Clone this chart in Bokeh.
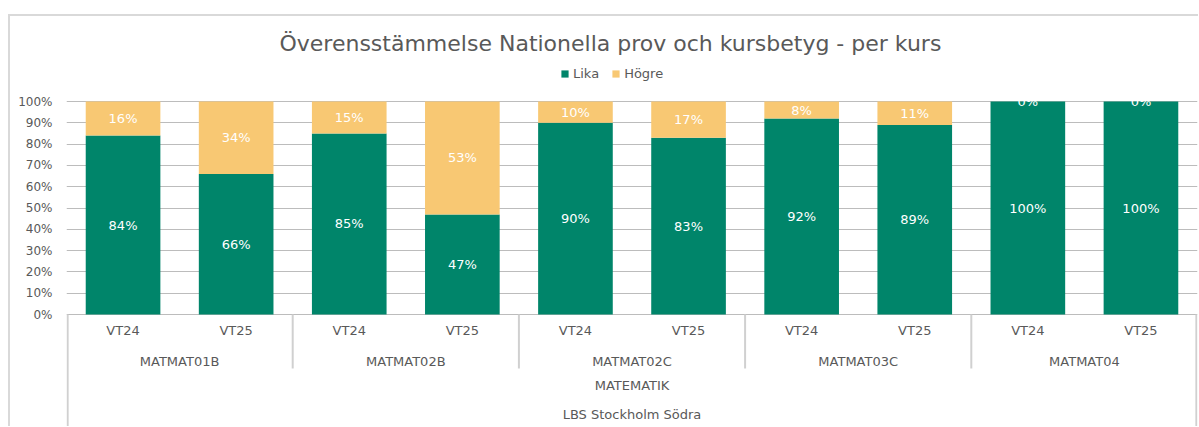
from bokeh.plotting import figure
from bokeh.models import (ColumnDataSource, Range1d, FixedTicker, NumeralTickFormatter,
                          Legend, LegendItem, InlineStyleSheet)
from bokeh.core.properties import value
from bokeh.embed import file_html
from bokeh.resources import INLINE

# ---------------- data ----------------
title = "Överensstämmelse Nationella prov och kursbetyg - per kurs"
school = "LBS Stockholm Södra"
subject = "MATEMATIK"
courses = ["MATMAT01B", "MATMAT02B", "MATMAT02C", "MATMAT03C", "MATMAT04"]
terms = ["VT24", "VT25"]
series_names = ["Lika", "Högre"]
lika = [84, 66, 85, 47, 90, 83, 92, 89, 100, 100]
hogre = [16, 34, 15, 53, 10, 17, 8, 11, 0, 0]
y_ticks = [0, 10, 20, 30, 40, 50, 60, 70, 80, 90, 100]

# ---------------- style ----------------
GREEN = "#00856A"
YELLOW = "#F8C873"
TEXT = "#595959"
GRID = "#bcbcbc"
SEP = "#d0d0d0"
FONT = "DejaVu Sans"

n = len(courses) * len(terms)
xs = [i + 0.5 for i in range(n)]
term_lab = [terms[i % len(terms)] for i in range(n)]
lika_f = [v / 100 for v in lika]
hogre_f = [v / 100 for v in hogre]

src = ColumnDataSource(dict(x=xs, lika=lika_f, hogre=hogre_f))

W, H = 1198, 426
TOP = 60
LEFT = 66
y_end = 1.1925
y_start = -0.5258

p = figure(width=W, height=H, output_backend="svg", toolbar_location=None,
           x_range=Range1d(0, n), y_range=Range1d(y_start, y_end),
           x_axis_location=None, title=title,
           min_border_left=LEFT, min_border_right=1, min_border_top=TOP, min_border_bottom=0)
p.outline_line_color = None
p.background_fill_color = "white"
p.border_fill_color = "white"

p.title.text_font = FONT
p.title.text_font_size = "22px"
p.title.text_font_style = "normal"
p.title.text_color = TEXT
p.title.align = "left"
p.title.offset = 213

# y axis
ticks = [t / 100 for t in y_ticks]
p.yaxis.ticker = FixedTicker(ticks=ticks)
p.yaxis.formatter = NumeralTickFormatter(format="0%")
p.yaxis.axis_line_color = None
p.yaxis.major_tick_line_color = None
p.yaxis.minor_tick_line_color = None
p.yaxis.major_tick_out = 0
p.yaxis.major_tick_in = 0
p.yaxis.minor_tick_out = 0
p.yaxis.major_label_standoff = 14
p.yaxis.major_label_text_font = FONT
p.yaxis.major_label_text_font_size = "12px"
p.yaxis.major_label_text_color = TEXT
p.ygrid.ticker = FixedTicker(ticks=ticks)
p.ygrid.grid_line_color = GRID
p.ygrid.grid_line_width = 1.2
p.xgrid.grid_line_color = None

# bars
rs = p.vbar_stack(["lika", "hogre"], x="x", width=0.66, color=[GREEN, YELLOW],
                  line_color=None, source=src)

# data labels
lab_src = ColumnDataSource(dict(
    x=xs + xs,
    y=[v / 2 for v in lika_f] + [a + b / 2 for a, b in zip(lika_f, hogre_f)],
    t=[f"{v}%" for v in lika] + [f"{v}%" for v in hogre],
))
p.text(x="x", y="y", text="t", source=lab_src, text_align="center", text_baseline="middle",
       text_color="white", text_font=value(FONT), text_font_size="13px")

# category axis (multi-level) drawn in data space under 0%
Y_TERM, Y_COURSE, Y_SUBJ, Y_SCHOOL, Y_SEP = -0.0751, -0.2207, -0.3333, -0.4695, -0.2535
p.text(x=xs, y=[Y_TERM] * n, text=term_lab, text_align="center", text_baseline="middle",
       text_color=TEXT, text_font=value(FONT), text_font_size="13px")
course_x = [len(terms) * j + len(terms) / 2 for j in range(len(courses))]
p.text(x=course_x, y=[Y_COURSE] * len(courses), text=courses, text_align="center",
       text_baseline="middle", text_color=TEXT, text_font=value(FONT), text_font_size="13px")
p.text(x=[n / 2], y=[Y_SUBJ], text=[subject], text_align="center", text_baseline="middle",
       text_color=TEXT, text_font=value(FONT), text_font_size="13px")
p.text(x=[n / 2], y=[Y_SCHOOL], text=[school], text_align="center", text_baseline="middle",
       text_color=TEXT, text_font=value(FONT), text_font_size="13px")

inner = [len(terms) * j for j in range(1, len(courses))]
p.segment(x0=inner, y0=[0] * len(inner), x1=inner, y1=[Y_SEP] * len(inner),
          line_color=SEP, line_width=2)
p.segment(x0=[0.01, n - 0.01], y0=[0, 0], x1=[0.01, n - 0.01], y1=[y_start, y_start],
          line_color=SEP, line_width=2)

# legend (inside the frame, above the 100% line)
legend = Legend(items=[LegendItem(label=series_names[0], renderers=[rs[0]]),
                       LegendItem(label=series_names[1], renderers=[rs[1]])],
                orientation="horizontal", location=(494, 345),
                border_line_color=None, background_fill_alpha=0,
                label_text_font=FONT, label_text_font_size="13px", label_text_color=TEXT,
                glyph_width=9, glyph_height=9, label_standoff=4, spacing=12,
                padding=0, margin=0)
p.add_layout(legend)

# chart border (top and left edges visible, as in the reference)
p.stylesheets = [InlineStyleSheet(css="""
:host::after {
  content: "";
  position: absolute;
  left: 8px; top: 14px; right: 0; bottom: 0;
  border-top: 2px solid #d9d9d9;
  border-left: 2px solid #d9d9d9;
  pointer-events: none;
  z-index: 10;
}
""")]

open("out.html", "w").write(file_html(p, INLINE))
